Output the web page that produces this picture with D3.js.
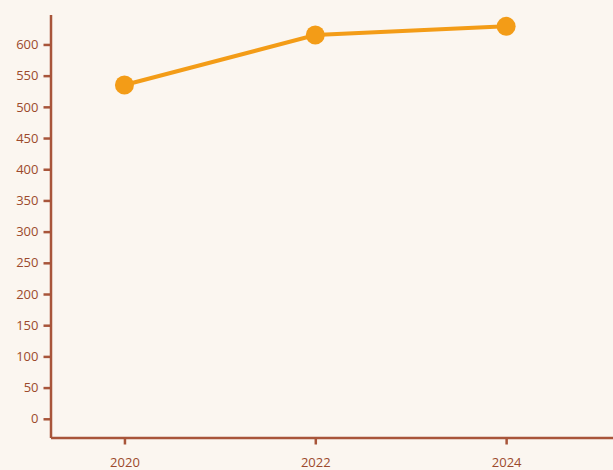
<!DOCTYPE html>
<html>
<head>
<meta charset="utf-8">
<script src="https://cdn.jsdelivr.net/npm/d3@7"></script>
<style>
  html, body { margin: 0; padding: 0; background: #fbf6f0; }
  svg { display: block; }
  .axis text { font-family: "Open Sans", sans-serif; font-size: 13px; fill: #9c4a2c; }
  .axis path, .axis line { stroke: #a8553a; stroke-width: 2.5; }
</style>
</head>
<body>
<div id="chart"></div>
<script>
const years = [2020, 2022, 2024];
const values = [535, 615, 629];
const yTicks = [0, 50, 100, 150, 200, 250, 300, 350, 400, 450, 500, 550, 600];

const width = 613, height = 470;

const svg = d3.select("#chart").append("svg")
    .attr("width", width)
    .attr("height", height);

const x = d3.scaleLinear().domain([2019.225, 2025.12]).range([50.5, 613]);
const y = d3.scaleLinear().domain([-30, 648]).range([437.5, 14.5]);

// axes
svg.append("g")
    .attr("class", "axis")
    .attr("transform", "translate(50.5,0)")
    .call(d3.axisLeft(y).tickValues(yTicks).tickSize(7).tickSizeOuter(0).tickPadding(5));

svg.append("g")
    .attr("class", "axis")
    .attr("transform", "translate(0,437.5)")
    .call(d3.axisBottom(x).tickValues(years).tickFormat(d3.format("d")).tickSize(7).tickSizeOuter(0).tickPadding(13));

const data = years.map((yr, i) => ({ year: yr, value: values[i] }));

svg.append("path")
    .datum(data)
    .attr("fill", "none")
    .attr("stroke", "#f39c17")
    .attr("stroke-width", 4)
    .attr("d", d3.line().x(d => x(d.year)).y(d => y(d.value)));

svg.append("g")
    .selectAll("circle")
    .data(data)
    .join("circle")
    .attr("cx", d => x(d.year))
    .attr("cy", d => y(d.value))
    .attr("r", 9.5)
    .attr("fill", "#f39c17");
</script>
</body>
</html>
